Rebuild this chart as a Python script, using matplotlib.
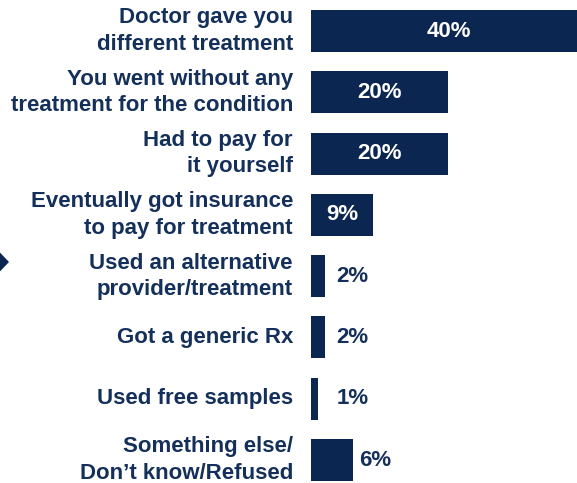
import matplotlib
matplotlib.use("Agg")
import matplotlib.pyplot as plt
from matplotlib.patches import Polygon

categories = [
    "Doctor gave you\ndifferent treatment",
    "You went without any\ntreatment for the condition",
    "Had to pay for\nit yourself",
    "Eventually got insurance\nto pay for treatment",
    "Used an alternative\nprovider/treatment",
    "Got a generic Rx",
    "Used free samples",
    "Something else/\nDon\u2019t know/Refused",
]
values = [40, 20, 20, 9, 2, 2, 1, 6]
value_labels = ["40%", "20%", "20%", "9%", "2%", "2%", "1%", "6%"]

BAR = "#0b2650"
TXT = "#14305a"

plt.rcParams["font.family"] = ["Liberation Sans", "DejaVu Sans"]

W, H = 577, 483
fig = plt.figure(figsize=(W / 100, H / 100), dpi=100)
ax = fig.add_axes([0, 0, 1, 1])
ax.axis("off")

pos = list(range(len(categories)))
ax.barh(pos, values, height=0.685, color=BAR, edgecolor="none")
ax.set_xlim(-45.47, 38.76)
ax.set_ylim(7.375, -0.506)

for i, (cat, v, lab) in enumerate(zip(categories, values, value_labels)):
    ax.text(-2.7, i, cat, ha="right", va="center", fontsize=16,
            fontweight="bold", color=TXT, linespacing=1.33)
    if v >= 9:
        ax.text(v / 2, i, lab, ha="center", va="center", fontsize=16,
                fontweight="bold", color="white")
    else:
        ax.text(max(v, 2.6) + 1.0, i, lab, ha="left", va="center",
                fontsize=16, fontweight="bold", color=TXT)

# partial arrow at left edge
pts = [(-12, 240), (9, 262), (-12, 284)]
pts = [(x / W, 1 - y / H) for x, y in pts]
fig.patches.append(Polygon(pts, closed=True, transform=fig.transFigure,
                           facecolor=BAR, edgecolor="none"))

fig.savefig("out.png", dpi=100)
